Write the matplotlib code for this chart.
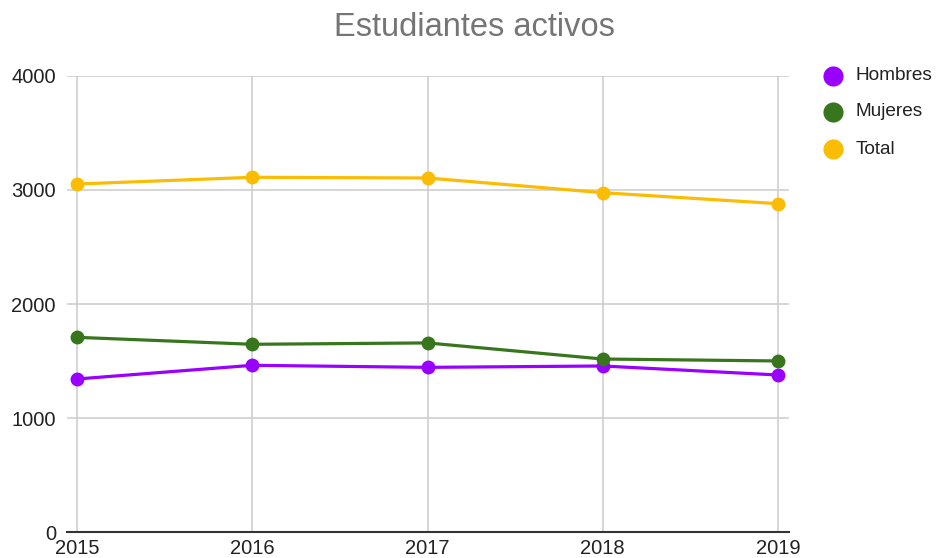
import matplotlib
matplotlib.use("Agg")
import matplotlib.pyplot as plt
from matplotlib.lines import Line2D

years = [2015, 2016, 2017, 2018, 2019]
hombres = [1343, 1463, 1445, 1457, 1378]
mujeres = [1708, 1647, 1659, 1518, 1501]
total = [3051, 3110, 3104, 2975, 2879]
series_names = ["Hombres", "Mujeres", "Total"]
colors = ["#9900ff", "#38761d", "#fbbc04"]
yticks = [0, 1000, 2000, 3000, 4000]

plt.rcParams['font.family'] = ['Liberation Sans', 'DejaVu Sans']

W, H = 937, 558
fig = plt.figure(figsize=(W / 100, H / 100), dpi=100)
ax_l, ax_r, ax_t, ax_b = 67, 789, 75.7, 532.3
ax = fig.add_axes([ax_l / W, 1 - ax_b / H, (ax_r - ax_l) / W, (ax_b - ax_t) / H])

for vals, c in zip([hombres, mujeres, total], colors):
    ax.plot(years, vals, color=c, lw=2.3, marker='o', markersize=10,
            markeredgewidth=0, zorder=3, solid_capstyle='round')

px_per_year = (778 - 77) / 4
ax.set_xlim(2015 - 10 / px_per_year, 2019 + 11 / px_per_year)
ax.set_ylim(0, 4000)
ax.set_xticks(years)
ax.set_xticklabels([str(y) for y in years])
ax.set_yticks(yticks)
ax.set_yticklabels([str(v) for v in yticks])
ax.grid(True, color="#cccccc", lw=1.1, zorder=0)
ax.set_axisbelow(True)
for s in ['top', 'right', 'left']:
    ax.spines[s].set_visible(False)
ax.spines['bottom'].set_color('#333333')
ax.spines['bottom'].set_linewidth(1.5)
ax.spines['bottom'].set_zorder(4)
ax.tick_params(axis='both', length=0, labelsize=14.5, colors='#222222')
ax.tick_params(axis='y', pad=8)
ax.tick_params(axis='x', pad=4.5)

fig.text(474 / W, 1 - 28 / H, "Estudiantes activos", ha='center', va='center',
         fontsize=23.5, color='#757575')

leg_y = [76, 112, 149]
for name, c, yy in zip(series_names, colors, leg_y):
    fig.add_artist(Line2D([833 / W], [1 - yy / H], marker='o', markersize=14.5,
                          markeredgewidth=0, color=c, transform=fig.transFigure))
    fig.text(856 / W, 1 - yy / H, name, ha='left', va='center', fontsize=13.7,
             color='#222222')

fig.savefig("out.png", dpi=100)
